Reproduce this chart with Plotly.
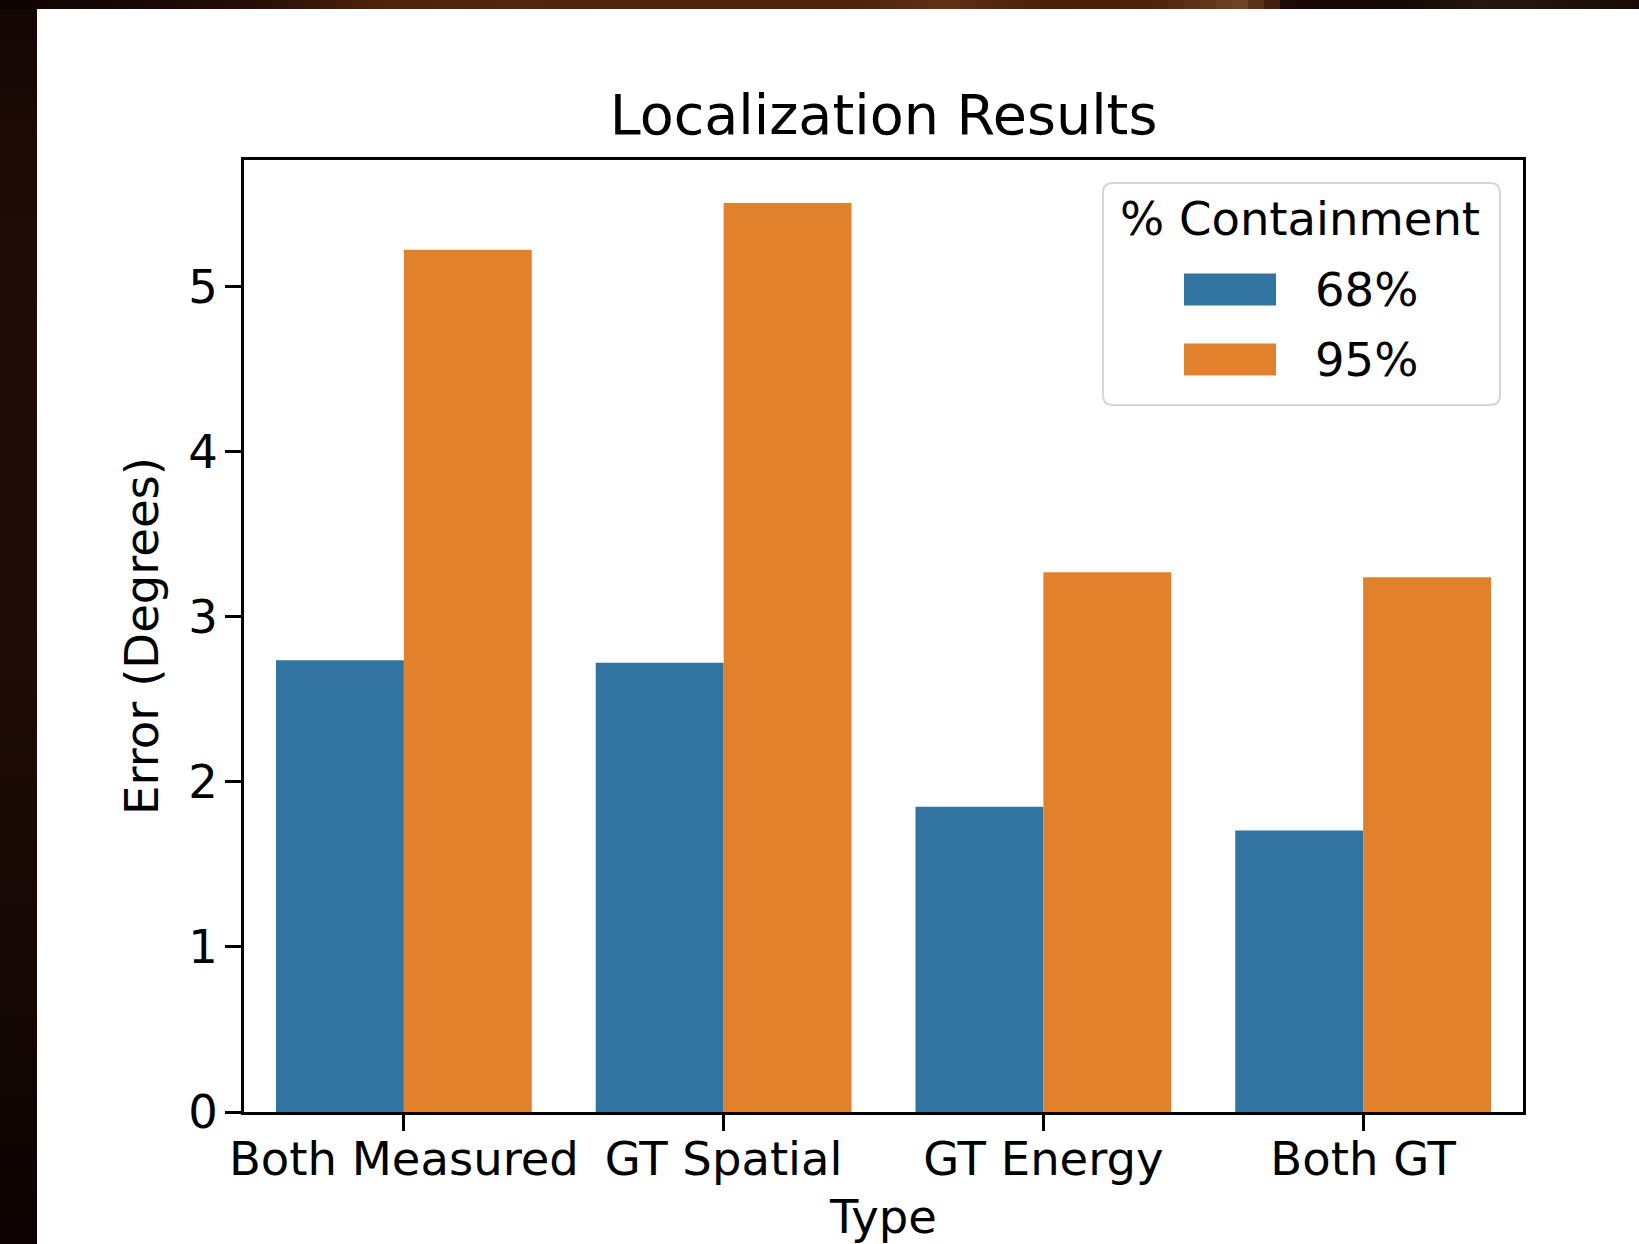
import plotly.graph_objects as go

# ---------------- data ----------------
categories = ["Both Measured", "GT Spatial", "GT Energy", "Both GT"]
series_names = ["68%", "95%"]
values_68 = [2.736, 2.720, 1.848, 1.705]
values_95 = [5.222, 5.504, 3.269, 3.238]
y_ticks = [0, 1, 2, 3, 4, 5]
title_text = "Localization Results"
x_title = "Type"
y_title = "Error (Degrees)"
legend_title = "% Containment"

# ---------------- style ----------------
W, H = 1639, 1244
L, R, T, B = 244, 1523, 160, 1112          # plot area in pixels
BLUE = "#3274a1"
ORANGE = "#e1812c"
FONT = "DejaVu Sans"
FS = 46.5


def px(x):
    return (x - L) / (R - L)


def py(y):
    return (B - y) / (B - T)


fig = go.Figure()
for name, vals, col in [(series_names[0], values_68, BLUE), (series_names[1], values_95, ORANGE)]:
    fig.add_trace(go.Bar(x=categories, y=vals, name=name, marker=dict(color=col, line=dict(width=0)),
                         showlegend=False))

shapes = []
annotations = []

# ----- dark screenshot frame (top and left bands) -----
top_stops = [
    (0, (14, 3, 3)), (120, (22, 7, 4)), (260, (40, 14, 6)), (380, (78, 34, 12)),
    (520, (84, 38, 14)), (700, (78, 34, 12)), (850, (80, 34, 12)), (945, (96, 48, 20)),
    (1050, (74, 30, 8)), (1150, (78, 32, 10)), (1240, (112, 68, 36)), (1275, (64, 28, 12)),
    (1290, (24, 6, 4)), (1400, (20, 8, 4)), (1480, (36, 24, 12)), (1560, (32, 20, 8)),
    (1639, (24, 10, 4)),
]


def interp(stops, x):
    for (x0, c0), (x1, c1) in zip(stops[:-1], stops[1:]):
        if x0 <= x <= x1:
            t = (x - x0) / (x1 - x0) if x1 > x0 else 0
            return tuple(int(round(a + (b - a) * t)) for a, b in zip(c0, c1))
    return stops[-1][1]


step = 16
x = 0
while x < W:
    c = interp(top_stops, x + step / 2)
    shapes.append(dict(type="rect", xref="paper", yref="paper", layer="above",
                       x0=px(x), x1=px(min(x + step + 1, W)), y0=py(9), y1=py(0),
                       fillcolor="rgb(%d,%d,%d)" % c, line=dict(width=0)))
    x += step

left_stops = [
    (0, (18, 5, 3)), (150, (28, 11, 6)), (350, (32, 13, 7)), (600, (30, 13, 8)),
    (800, (26, 10, 5)), (1000, (20, 7, 4)), (1244, (12, 3, 2)),
]
y = 9
while y < H:
    c = interp(left_stops, y + step / 2)
    shapes.append(dict(type="rect", xref="paper", yref="paper", layer="above",
                       x0=px(0), x1=px(37), y0=py(min(y + step + 1, H)), y1=py(y),
                       fillcolor="rgb(%d,%d,%d)" % c, line=dict(width=0)))
    y += step

# ----- legend (drawn manually to match wide matplotlib swatches) -----
lx0, lx1, ly0, ly1, rad = 1103, 1500, 183, 405, 10
path = (f"M {px(lx0 + rad)},{py(ly0)} L {px(lx1 - rad)},{py(ly0)} "
        f"Q {px(lx1)},{py(ly0)} {px(lx1)},{py(ly0 + rad)} "
        f"L {px(lx1)},{py(ly1 - rad)} Q {px(lx1)},{py(ly1)} {px(lx1 - rad)},{py(ly1)} "
        f"L {px(lx0 + rad)},{py(ly1)} Q {px(lx0)},{py(ly1)} {px(lx0)},{py(ly1 - rad)} "
        f"L {px(lx0)},{py(ly0 + rad)} Q {px(lx0)},{py(ly0)} {px(lx0 + rad)},{py(ly0)} Z")
shapes.append(dict(type="path", xref="paper", yref="paper", path=path, layer="above",
                   fillcolor="rgba(255,255,255,0.8)", line=dict(color="rgba(204,204,204,0.8)", width=2)))

annotations.append(dict(xref="paper", yref="paper", x=px(1300), y=py(219), text=legend_title,
                        showarrow=False, xanchor="center", yanchor="middle",
                        font=dict(family=FONT, size=FS, color="black")))
for i, (name, col) in enumerate([(series_names[0], BLUE), (series_names[1], ORANGE)]):
    cy = 289.5 + i * 70
    shapes.append(dict(type="rect", xref="paper", yref="paper", layer="above",
                       x0=px(1184), x1=px(1276), y0=py(cy + 16), y1=py(cy - 16),
                       fillcolor=col, line=dict(width=0)))
    annotations.append(dict(xref="paper", yref="paper", x=px(1313), y=py(cy), text=name,
                            showarrow=False, xanchor="left", yanchor="middle",
                            font=dict(family=FONT, size=FS, color="black")))

fig.update_layout(
    width=W, height=H,
    margin=dict(l=L, r=W - R, t=T, b=H - B, autoexpand=False),
    paper_bgcolor="white", plot_bgcolor="white",
    barmode="group", bargap=0.2, bargroupgap=0.0,
    font=dict(family=FONT, size=FS, color="black"),
    title=dict(text=title_text, x=0.5, xref="paper", xanchor="center",
               y=1 - 115 / H, yref="container", yanchor="middle",
               font=dict(family=FONT, size=55.6, color="black")),
    shapes=shapes, annotations=annotations,
    showlegend=False,
)
fig.update_xaxes(
    type="category", range=[-0.5, 3.5],
    showline=True, linecolor="black", linewidth=2.7, mirror=True,
    ticks="outside", ticklen=16, tickwidth=2.7, tickcolor="black",
    ticklabelstandoff=-12,
    showgrid=False, zeroline=False,
    tickfont=dict(family=FONT, size=FS, color="black"),
    title=dict(text=x_title, standoff=27, font=dict(family=FONT, size=FS, color="black")),
    automargin=False,
)
fig.update_yaxes(
    range=[0, 5.765], tickvals=y_ticks, ticktext=[str(t) for t in y_ticks],
    showline=True, linecolor="black", linewidth=2.7, mirror=True,
    ticks="outside", ticklen=16, tickwidth=2.7, tickcolor="black",
    ticklabelstandoff=-2,
    showgrid=False, zeroline=False,
    tickfont=dict(family=FONT, size=FS, color="black"),
    title=dict(text=y_title, standoff=15, font=dict(family=FONT, size=FS, color="black")),
    automargin=False,
)

fig.write_html("out.html", config={"displayModeBar": False},
               post_script="document.body.style.margin='0';document.body.style.padding='0';")
